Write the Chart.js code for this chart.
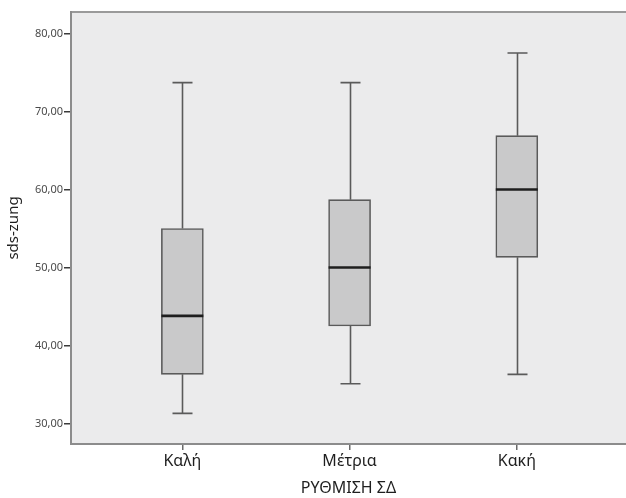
<!DOCTYPE html>
<html>
<head>
<meta charset="utf-8">
<style>
  html, body { margin: 0; padding: 0; background: #ffffff; }
  #wrap { width: 626px; height: 498px; }
</style>
<script src="https://cdn.jsdelivr.net/npm/chart.js@4.4.1/dist/chart.umd.min.js"></script>
</head>
<body>
<div id="wrap"><canvas id="c" width="626" height="498"></canvas></div>
<script>
const categories = ['Καλή', 'Μέτρια', 'Κακή'];
const positions = [1, 2, 3];
const whiskerLow = [31.3, 35.1, 36.3];
const q1 = [36.3, 42.5, 51.3];
const median = [43.8, 50.0, 60.0];
const q3 = [55.0, 58.7, 66.9];
const whiskerHigh = [73.7, 73.7, 77.5];
const yTicks = [30, 40, 50, 60, 70, 80];
const xTitle = 'ΡΥΘΜΙΣΗ ΣΔ';
const yTitle = 'sds-zung';

const FONT = "'Noto Sans', 'DejaVu Sans', sans-serif";

const boxPlugin = {
  id: 'boxExtras',
  beforeDraw(chart) {
    const {ctx, chartArea: a} = chart;
    ctx.save();
    ctx.fillStyle = '#ebebec';
    ctx.fillRect(a.left, a.top, a.right - a.left, a.bottom - a.top);
    ctx.strokeStyle = '#9a9a9a';
    ctx.lineWidth = 2;
    ctx.beginPath();
    ctx.moveTo(a.left, a.top);
    ctx.lineTo(a.right, a.top);
    ctx.stroke();
    ctx.restore();
  },
  beforeDatasetsDraw(chart) {
    const {ctx, scales: {x, y}} = chart;
    ctx.save();
    ctx.strokeStyle = '#5a5a5a';
    ctx.lineWidth = 1.6;
    positions.forEach((p, i) => {
      const px = Math.round(x.getPixelForValue(p)) + 0.5;
      const cap = 10;
      const yl = y.getPixelForValue(whiskerLow[i]);
      const yh = y.getPixelForValue(whiskerHigh[i]);
      const y1 = y.getPixelForValue(q1[i]);
      const y3 = y.getPixelForValue(q3[i]);
      ctx.beginPath();
      ctx.moveTo(px, yh); ctx.lineTo(px, y3);
      ctx.moveTo(px, y1); ctx.lineTo(px, yl);
      ctx.moveTo(px - cap, yh); ctx.lineTo(px + cap, yh);
      ctx.moveTo(px - cap, yl); ctx.lineTo(px + cap, yl);
      ctx.stroke();
    });
    ctx.restore();
  },
  afterDatasetsDraw(chart) {
    const {ctx, scales: {y}} = chart;
    const meta = chart.getDatasetMeta(0);
    ctx.save();
    ctx.strokeStyle = '#1e1e1e';
    ctx.lineWidth = 2.6;
    positions.forEach((p, i) => {
      const bar = meta.data[i];
      const half = bar.width / 2;
      const px = bar.x;
      const ym = y.getPixelForValue(median[i]);
      ctx.beginPath();
      ctx.moveTo(px - half, ym); ctx.lineTo(px + half, ym);
      ctx.stroke();
    });
    ctx.restore();
  }
};

new Chart(document.getElementById('c'), {
  type: 'bar',
  data: {
    datasets: [{
      label: yTitle,
      data: positions.map((p, i) => ({x: p, y: [q1[i], q3[i]]})),
      backgroundColor: '#c9c9ca',
      borderColor: '#5a5a5a',
      borderWidth: 1.6,
      borderSkipped: false,
      barThickness: 42
    }]
  },
  options: {
    responsive: false,
    animation: false,
    devicePixelRatio: 1,
    layout: { padding: { top: 12, right: 0, left: 0, bottom: 0 } },
    plugins: { legend: { display: false }, tooltip: { enabled: false }, title: { display: false } },
    scales: {
      x: {
        type: 'linear',
        offset: false,
        min: 0.334,
        max: 3.653,
        afterBuildTicks: s => { s.ticks = positions.map(v => ({value: v})); },
        afterFit: s => { s.height = 54; },
        ticks: {
          callback: (v) => categories[positions.indexOf(v)] || '',
          color: '#1f1f1f',
          font: { family: FONT, size: 16 },
          padding: 2,
          maxRotation: 0,
          autoSkip: false
        },
        grid: { offset: false, drawOnChartArea: false, drawTicks: true, tickLength: 6, color: '#6a6a6a', lineWidth: 1.5 },
        border: { display: true, color: '#8c8c8c', width: 2 },
        title: { display: true, text: xTitle, color: '#1f1f1f', font: { family: FONT, size: 16 }, padding: { top: 0, bottom: 0 } }
      },
      y: {
        type: 'linear',
        min: 27.37,
        max: 82.76,
        afterBuildTicks: s => { s.ticks = yTicks.map(v => ({value: v})); },
        afterFit: s => { s.width = 71; },
        ticks: {
          callback: v => v.toFixed(2).replace('.', ','),
          color: '#4a4a4a',
          font: { family: FONT, size: 11 },
          padding: 1
        },
        grid: { drawOnChartArea: false, drawTicks: true, tickLength: 7, color: '#3a3a3a', lineWidth: 1.5 },
        border: { display: true, color: '#8c8c8c', width: 2 },
        title: { display: true, text: yTitle, color: '#1f1f1f', font: { family: FONT, size: 15 }, padding: { top: 5, bottom: 0 } }
      }
    }
  },
  plugins: [boxPlugin]
});
</script>
</body>
</html>
